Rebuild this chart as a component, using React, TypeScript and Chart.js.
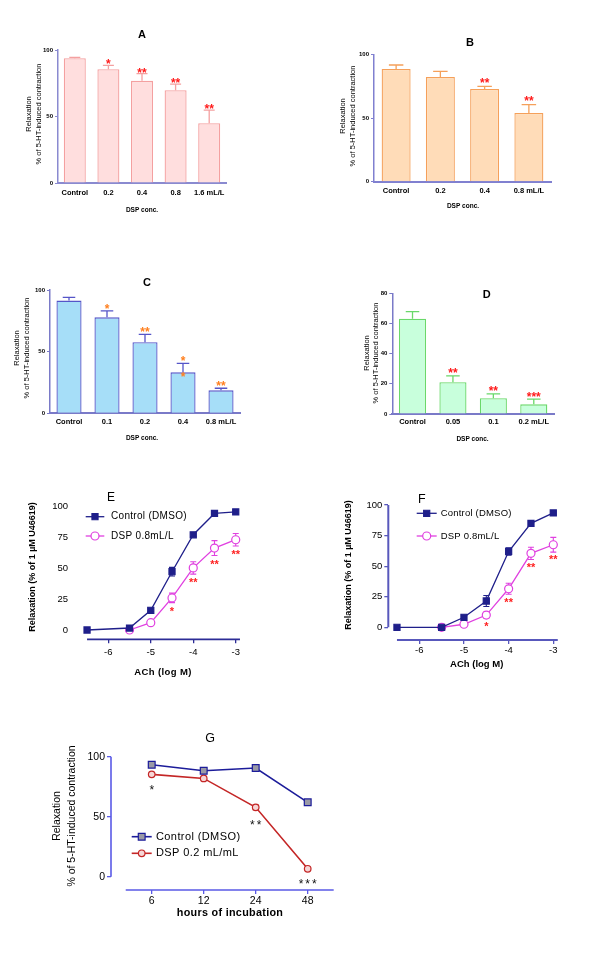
import React, { useEffect, useRef } from 'react';
import { Chart, registerables } from 'chart.js';

Chart.register(...registerables);

const FONT = '"Liberation Sans", Arial, Helvetica, sans-serif';

// ---------------- DATA ----------------
// Panel A
const aLabels = ['Control', '0.2', '0.4', '0.8', '1.6 mL/L'];
const aMeans = [93.8, 85.5, 76.8, 69.8, 45];
const aErrs = [0.7, 3, 5.5, 4.5, 9.8];
const aStars = ['', '*', '**', '**', '**'];

// Panel B
const bLabels = ['Control', '0.2', '0.4', '0.8 mL/L'];
const bMeans = [88.5, 82.2, 72.8, 53.9];
const bErrs = [3.1, 4.4, 2.1, 6.6];
const bStars = ['', '', '**', '**'];

// Panel C
const cLabels = ['Control', '0.1', '0.2', '0.4', '0.8 mL/L'];
const cMeans = [91.4, 77.8, 57.6, 33.2, 18.6];
const cErrs = [2.6, 5.2, 6.4, 7.3, 1.7];
const cStars = ['', '*', '**', '*', '**'];
const cStarsOnBar = ['', '', '', '*', ''];

// Panel D
const dLabels = ['Control', '0.05', '0.1', '0.2 mL/L'];
const dMeans = [63.1, 21.1, 10.4, 6.4];
const dErrs = [4.7, 4.2, 2.9, 3.4];
const dStars = ['', '**', '**', '***'];

const yTicks100 = [0, 50, 100];
const yTicks80 = [0, 20, 40, 60, 80];

// Panel E
const eCtrlX = [-6.5, -5.5, -5, -4.5, -4, -3.5, -3];
const eCtrlY = [0, 1.6, 15.9, 47, 76.8, 94, 95.2];
const eCtrlErr = [0, 0.5, 1, 3.5, 1.5, 1, 0.8];
const eDspX = [-5.5, -5, -4.5, -4, -3.5, -3];
const eDspY = [0, 5.9, 25.9, 50.1, 66.1, 72.8];
const eDspErr = [0, 0.8, 3.8, 5, 6, 5];
const eStars = ['', '', '*', '**', '**', '**'];

// Panel F
const fCtrlX = [-6.5, -5.5, -5, -4.5, -4, -3.5, -3];
const fCtrlY = [0, 0, 8.2, 21.5, 62, 85, 93.5];
const fCtrlErr = [0, 0.5, 1, 4.5, 3, 1.5, 1];
const fDspX = [-5.5, -5, -4.5, -4, -3.5, -3];
const fDspY = [0, 2.5, 10, 31.5, 60.5, 67.5];
const fDspErr = [0, 0.5, 2.5, 4.5, 5, 6];
const fStars = ['', '', '*', '**', '**', '**'];

const logTicks = [-6, -5, -4, -3];
const yTicks25 = [0, 25, 50, 75, 100];

// Panel G
const gHours = ['6', '12', '24', '48'];
const gIdx = [0, 1, 2, 3];
const gCtrlY = [93.3, 88.3, 90.6, 62];
const gCtrlErr = [0.8, 0.8, 0.8, 1.2];
const gDspY = [85.3, 81.9, 57.8, 6.6];
const gDspErr = [0.5, 0.5, 2, 0.5];
const gStars = ['*', '', '**', '***'];

// ---------------- HELPERS ----------------
type Rect = { x: number; y: number; w: number; h: number };
type Area = { l: number; t: number; r: number; b: number };

function fit(rect: Rect, area: Area) {
  return {
    padding: { top: area.t - rect.y, right: rect.x + rect.w - area.r, left: 0, bottom: 0 },
    yW: area.l - rect.x,
    xH: rect.y + rect.h - area.b,
  };
}

type TOpt = { size: number; bold?: boolean; color?: string; align?: CanvasTextAlign; rot?: number; spacing?: number };

function drawText(ctx: CanvasRenderingContext2D, s: string, x: number, y: number, o: TOpt) {
  ctx.save();
  ctx.font = `${o.bold ? 'bold ' : ''}${o.size}px ${FONT}`;
  ctx.fillStyle = o.color ?? '#000';
  ctx.textAlign = o.align ?? 'center';
  ctx.textBaseline = 'middle';
  if (o.spacing) (ctx as any).letterSpacing = `${o.spacing}px`;
  ctx.translate(x, y);
  if (o.rot) ctx.rotate(o.rot);
  ctx.fillText(s, 0, 0);
  ctx.restore();
}

function drawStars(ctx: CanvasRenderingContext2D, s: string, x: number, yc: number, size: number, color: string, bold = true, spacing = 0) {
  ctx.save();
  ctx.font = `${bold ? 'bold ' : ''}${size}px ${FONT}`;
  ctx.fillStyle = color;
  ctx.textAlign = 'center';
  ctx.textBaseline = 'alphabetic';
  if (spacing) (ctx as any).letterSpacing = `${spacing}px`;
  ctx.fillText(s, x + spacing / 2, yc + 0.58 * size);
  ctx.restore();
}

// ---------------- BAR PANELS ----------------
type BarPanel = {
  rect: Rect; area: Area;
  labels: string[]; means: number[]; errs: number[]; stars: string[]; starsOnBar?: string[];
  starColor: string; starGap: number;
  fill: string; line: string; axis: string;
  yMax: number; yTicks: number[]; barPct: number; xPad: number;
  title: string; titleAt: [number, number];
  yTitleX: [number, number]; yTitleY: number; concAt: [number, number];
};

function barConfig(P: BarPanel): any {
  const f = fit(P.rect, P.area);
  const overlay = {
    id: 'barOverlay',
    afterDatasetsDraw(chart: any) {
      const ctx: CanvasRenderingContext2D = chart.ctx;
      const y = chart.scales.y;
      const meta = chart.getDatasetMeta(0);
      ctx.save();
      ctx.strokeStyle = P.line;
      ctx.lineWidth = 1.3;
      P.means.forEach((m, i) => {
        const el = meta.data[i];
        const cx = el.x;
        const w = el.width;
        const yM = y.getPixelForValue(m);
        const yT = y.getPixelForValue(m + P.errs[i]);
        ctx.beginPath();
        ctx.moveTo(cx, yM);
        ctx.lineTo(cx, yT);
        ctx.moveTo(cx - w * 0.25, yT);
        ctx.lineTo(cx + w * 0.25, yT);
        ctx.stroke();
        if (P.stars[i]) drawStars(ctx, P.stars[i], cx, yT - P.starGap, 12, P.starColor);
        if (P.starsOnBar && P.starsOnBar[i]) drawStars(ctx, P.starsOnBar[i], cx, yM + 2, 12, P.starColor);
      });
      ctx.restore();
      ctx.save();
      ctx.translate(-P.rect.x, -P.rect.y);
      drawText(ctx, P.title, P.titleAt[0], P.titleAt[1], { size: 11, bold: true });
      drawText(ctx, 'Relaxation', P.yTitleX[0], P.yTitleY, { size: 7.5, rot: -Math.PI / 2 });
      drawText(ctx, '% of 5-HT-induced contraction', P.yTitleX[1], P.yTitleY, { size: 7.5, rot: -Math.PI / 2 });
      drawText(ctx, 'DSP conc.', P.concAt[0], P.concAt[1], { size: 6.5, bold: true });
      ctx.restore();
    },
  };
  return {
    type: 'bar',
    data: {
      labels: P.labels,
      datasets: [{
        data: P.means,
        backgroundColor: P.fill,
        borderColor: P.line,
        borderWidth: 1.3,
        barPercentage: P.barPct,
        categoryPercentage: 1,
        borderSkipped: 'start',
      }],
    },
    options: {
      animation: false,
      responsive: false,
      devicePixelRatio: 1,
      events: [],
      layout: { padding: f.padding },
      plugins: { legend: { display: false }, tooltip: { enabled: false }, title: { display: false } },
      scales: {
        x: {
          type: 'category',
          offset: true,
          grid: { display: false, drawTicks: false },
          border: { display: true, color: P.axis, width: 2 },
          ticks: { color: '#000', font: { family: FONT, size: 7.5, weight: 'bold' }, padding: P.xPad, autoSkip: false, maxRotation: 0, minRotation: 0 },
          afterFit: (s: any) => { s.height = f.xH; },
        },
        y: {
          type: 'linear',
          min: 0,
          max: P.yMax,
          afterBuildTicks: (s: any) => { s.ticks = P.yTicks.map((v) => ({ value: v })); },
          grid: { display: true, drawOnChartArea: false, drawTicks: true, tickLength: 3, color: P.axis, lineWidth: 1 },
          border: { display: true, color: P.axis, width: 1.5 },
          ticks: { color: '#000', font: { family: FONT, size: 6, weight: 'bold' }, padding: 2 },
          afterFit: (s: any) => { s.width = f.yW; },
        },
      },
    },
    plugins: [overlay],
  };
}

const panelA: BarPanel = {
  rect: { x: 0, y: 0, w: 300, h: 215 }, area: { l: 58, t: 50, r: 226, b: 183 },
  labels: aLabels, means: aMeans, errs: aErrs, stars: aStars,
  starColor: '#ff1a1a', starGap: 4, fill: '#ffdede', line: '#f4a0a0', axis: '#8a8ad0',
  yMax: 100, yTicks: yTicks100, barPct: 0.655, xPad: 5.2,
  title: 'A', titleAt: [142, 35], yTitleX: [29, 39], yTitleY: 114, concAt: [142, 210],
};
const panelB: BarPanel = {
  rect: { x: 300, y: 0, w: 300, h: 215 }, area: { l: 374, t: 54.3, r: 551, b: 181.7 },
  labels: bLabels, means: bMeans, errs: bErrs, stars: bStars,
  starColor: '#ff1a1a', starGap: 6.5, fill: '#ffdcb8', line: '#f5a05a', axis: '#8080d0',
  yMax: 100, yTicks: yTicks100, barPct: 0.655, xPad: 4.5,
  title: 'B', titleAt: [470, 43], yTitleX: [343, 353], yTitleY: 116, concAt: [463, 206],
};
const panelC: BarPanel = {
  rect: { x: 0, y: 215, w: 300, h: 230 }, area: { l: 50, t: 290, r: 240, b: 413.3 },
  labels: cLabels, means: cMeans, errs: cErrs, stars: cStars, starsOnBar: cStarsOnBar,
  starColor: '#ff8020', starGap: 5, fill: '#a6def8', line: '#5555c8', axis: '#7a7ac8',
  yMax: 100, yTicks: yTicks100, barPct: 0.66, xPad: 4.6,
  title: 'C', titleAt: [147, 283], yTitleX: [17, 27], yTitleY: 348, concAt: [142, 438.7],
};
const panelD: BarPanel = {
  rect: { x: 300, y: 215, w: 300, h: 230 }, area: { l: 392.3, t: 293.3, r: 554, b: 414 },
  labels: dLabels, means: dMeans, errs: dErrs, stars: dStars,
  starColor: '#ff1a1a', starGap: 5.5, fill: '#c8ffdc', line: '#6ad86a', axis: '#7a7ac8',
  yMax: 80, yTicks: yTicks80, barPct: 0.67, xPad: 3.9,
  title: 'D', titleAt: [486.7, 295], yTitleX: [366.7, 376], yTitleY: 353, concAt: [472.5, 439],
};

// ---------------- LINE PANELS ----------------
type Series = {
  label: string; x: number[]; y: number[]; err: number[];
  color: string; fill: string; marker: 'rect' | 'circle'; r: number; lw: number;
};
type LinePanel = {
  rect: Rect; area: Area;
  xMin: number; xMax: number; yMin: number; yMax: number;
  xTicks: number[]; yTicks: number[]; xFmt?: (v: number) => string;
  xLine: [number, number]; yLine?: [number, number];
  axis: string; axisW: number; yTickMarks: boolean; yPad: number; xPad: number;
  tickFont: number; series: Series[]; cap: number;
  stars: string[]; starSeries: number; starGap: number; starColor: string; starSize: number; starBold: boolean; starSpacing: number;
  title: string; titleAt: [number, number]; titleSize: number;
  yTitle: string[]; yTitleX: number[]; yTitleY: number; yTitleSize: number; yTitleBold: boolean;
  xTitle: string; xTitleAt: [number, number]; xTitleSize: number; xTitleSpacing: number;
  legend: { x1: number; x2: number; mx: number; tx: number; ys: number[]; size: number; spacing: number };
};

function drawMarker(ctx: CanvasRenderingContext2D, s: Series, x: number, y: number) {
  ctx.save();
  ctx.fillStyle = s.fill;
  ctx.strokeStyle = s.color;
  ctx.lineWidth = 1.2;
  ctx.beginPath();
  if (s.marker === 'rect') {
    const h = s.r * Math.SQRT1_2;
    ctx.rect(x - h, y - h, 2 * h, 2 * h);
  } else {
    ctx.arc(x, y, s.r, 0, Math.PI * 2);
  }
  ctx.fill();
  ctx.stroke();
  ctx.restore();
}

function lineConfig(P: LinePanel): any {
  const f = fit(P.rect, P.area);
  const overlay = {
    id: 'lineOverlay',
    beforeDatasetsDraw(chart: any) {
      const ctx: CanvasRenderingContext2D = chart.ctx;
      const xs = chart.scales.x;
      const ys = chart.scales.y;
      const { left, bottom } = chart.chartArea;
      ctx.save();
      ctx.strokeStyle = P.axis;
      ctx.lineWidth = P.axisW;
      ctx.beginPath();
      ctx.moveTo(xs.getPixelForValue(P.xLine[0]), bottom);
      ctx.lineTo(xs.getPixelForValue(P.xLine[1]), bottom);
      if (P.yLine) {
        ctx.moveTo(left, ys.getPixelForValue(P.yLine[1]));
        ctx.lineTo(left, ys.getPixelForValue(P.yLine[0]));
      }
      ctx.stroke();
      P.series.forEach((s) => {
        ctx.strokeStyle = s.color;
        ctx.lineWidth = 1.1;
        s.x.forEach((xv, i) => {
          const e = s.err[i];
          if (!e) return;
          const px = xs.getPixelForValue(xv);
          const y1 = ys.getPixelForValue(s.y[i] + e);
          const y2 = ys.getPixelForValue(s.y[i] - e);
          ctx.beginPath();
          ctx.moveTo(px, y1); ctx.lineTo(px, y2);
          ctx.moveTo(px - P.cap, y1); ctx.lineTo(px + P.cap, y1);
          ctx.moveTo(px - P.cap, y2); ctx.lineTo(px + P.cap, y2);
          ctx.stroke();
        });
      });
      ctx.restore();
    },
    afterDatasetsDraw(chart: any) {
      const ctx: CanvasRenderingContext2D = chart.ctx;
      const xs = chart.scales.x;
      const ys = chart.scales.y;
      const ss = P.series[P.starSeries];
      P.stars.forEach((st, i) => {
        if (!st) return;
        const px = xs.getPixelForValue(ss.x[i]);
        const py = ys.getPixelForValue(ss.y[i] - ss.err[i]);
        drawStars(ctx, st, px, py + P.starGap, P.starSize, P.starColor, P.starBold, P.starSpacing);
      });
      ctx.save();
      ctx.translate(-P.rect.x, -P.rect.y);
      drawText(ctx, P.title, P.titleAt[0], P.titleAt[1], { size: P.titleSize });
      P.yTitle.forEach((t, k) => drawText(ctx, t, P.yTitleX[k], P.yTitleY, { size: P.yTitleSize, bold: P.yTitleBold, rot: -Math.PI / 2 }));
      drawText(ctx, P.xTitle, P.xTitleAt[0], P.xTitleAt[1], { size: P.xTitleSize, bold: true, spacing: P.xTitleSpacing });
      const L = P.legend;
      P.series.forEach((s, k) => {
        const ly = L.ys[k];
        ctx.save();
        ctx.strokeStyle = s.color;
        ctx.lineWidth = s.lw;
        ctx.beginPath();
        ctx.moveTo(L.x1, ly);
        ctx.lineTo(L.x2, ly);
        ctx.stroke();
        ctx.restore();
        drawMarker(ctx, s, L.mx, ly);
        drawText(ctx, s.label, L.tx, ly, { size: L.size, align: 'left', spacing: L.spacing });
      });
      ctx.restore();
    },
  };
  return {
    type: 'line',
    data: {
      datasets: P.series.map((s) => ({
        label: s.label,
        data: s.x.map((x, i) => ({ x, y: s.y[i] })),
        borderColor: s.color,
        backgroundColor: s.fill,
        borderWidth: s.lw,
        pointStyle: s.marker,
        pointRadius: s.r,
        pointBackgroundColor: s.fill,
        pointBorderColor: s.color,
        pointBorderWidth: 1.2,
        tension: 0,
        fill: false,
        clip: false,
      })),
    },
    options: {
      animation: false,
      responsive: false,
      devicePixelRatio: 1,
      events: [],
      layout: { padding: f.padding },
      plugins: { legend: { display: false }, tooltip: { enabled: false }, title: { display: false } },
      scales: {
        x: {
          type: 'linear',
          min: P.xMin,
          max: P.xMax,
          afterBuildTicks: (s: any) => { s.ticks = P.xTicks.map((v) => ({ value: v })); },
          grid: { display: true, drawOnChartArea: false, drawTicks: true, tickLength: 4, color: P.axis, lineWidth: 1.3 },
          border: { display: false },
          ticks: {
            color: '#000',
            font: { family: FONT, size: P.tickFont },
            padding: P.xPad,
            maxRotation: 0,
            autoSkip: false,
            callback: (v: number) => (P.xFmt ? P.xFmt(v) : String(v)),
          },
          afterFit: (s: any) => { s.height = f.xH; },
        },
        y: {
          type: 'linear',
          min: P.yMin,
          max: P.yMax,
          afterBuildTicks: (s: any) => { s.ticks = P.yTicks.map((v) => ({ value: v })); },
          grid: { display: P.yTickMarks, drawOnChartArea: false, drawTicks: P.yTickMarks, tickLength: 4, color: P.axis, lineWidth: 1.3 },
          border: { display: false },
          ticks: { color: '#000', font: { family: FONT, size: P.tickFont }, padding: P.yPad },
          afterFit: (s: any) => { s.width = f.yW; },
        },
      },
    },
    plugins: [overlay],
  };
}

const NAVY = '#1f1f8a';
const MAGENTA = '#e040e0';

const panelE: LinePanel = {
  rect: { x: 0, y: 445, w: 300, h: 240 }, area: { l: 82.8, t: 506, r: 242.1, b: 639.3 },
  xMin: -6.6, xMax: -2.85, yMin: -7.5, yMax: 100,
  xTicks: logTicks, yTicks: yTicks25, xLine: [-6.5, -2.9],
  axis: '#2c2c96', axisW: 1.8, yTickMarks: false, yPad: 14.8, xPad: 3.5, tickFont: 9.5,
  series: [
    { label: 'Control (DMSO)', x: eCtrlX, y: eCtrlY, err: eCtrlErr, color: NAVY, fill: NAVY, marker: 'rect', r: 4.3, lw: 1.3 },
    { label: 'DSP 0.8mL/L', x: eDspX, y: eDspY, err: eDspErr, color: MAGENTA, fill: '#ffffff', marker: 'circle', r: 4, lw: 1.3 },
  ],
  cap: 3,
  stars: eStars, starSeries: 1, starGap: 6, starColor: '#ff2020', starSize: 11, starBold: true, starSpacing: 0,
  title: 'E', titleAt: [111, 498], titleSize: 12,
  yTitle: ['Relaxation (% of 1 \u00b5M U46619)'], yTitleX: [33], yTitleY: 567, yTitleSize: 9, yTitleBold: true,
  xTitle: 'ACh (log M)', xTitleAt: [163, 672], xTitleSize: 9.5, xTitleSpacing: 0.4,
  legend: { x1: 85.7, x2: 104.3, mx: 95, tx: 111, ys: [516.7, 536], size: 10, spacing: 0.3 },
};

const panelF: LinePanel = {
  rect: { x: 300, y: 445, w: 300, h: 240 }, area: { l: 388.3, t: 505, r: 560, b: 640 },
  xMin: -6.694, xMax: -2.85, yMin: -10.38, yMax: 100,
  xTicks: logTicks, yTicks: yTicks25, xLine: [-6.5, -2.9], yLine: [0, 100],
  axis: '#5858bc', axisW: 2, yTickMarks: true, yPad: 2, xPad: 1, tickFont: 9.5,
  series: [
    { label: 'Control (DMSO)', x: fCtrlX, y: fCtrlY, err: fCtrlErr, color: NAVY, fill: NAVY, marker: 'rect', r: 4.3, lw: 1.3 },
    { label: 'DSP 0.8mL/L', x: fDspX, y: fDspY, err: fDspErr, color: MAGENTA, fill: '#ffffff', marker: 'circle', r: 4, lw: 1.3 },
  ],
  cap: 3,
  stars: fStars, starSeries: 1, starGap: 5, starColor: '#ff2020', starSize: 11, starBold: true, starSpacing: 0,
  title: 'F', titleAt: [421.7, 500], titleSize: 12.5,
  yTitle: ['Relaxation (% of 1 \u00b5M U46619)'], yTitleX: [348.3], yTitleY: 565, yTitleSize: 9, yTitleBold: true,
  xTitle: 'ACh (log M)', xTitleAt: [476.7, 664.3], xTitleSize: 9.5, xTitleSpacing: 0,
  legend: { x1: 416.7, x2: 436.7, mx: 426.7, tx: 440.7, ys: [513.3, 536], size: 9.5, spacing: 0.2 },
};

const panelG: LinePanel = {
  rect: { x: 0, y: 690, w: 600, h: 269 }, area: { l: 111, t: 756.7, r: 338.9, b: 890 },
  xMin: -0.783, xMax: 3.6, yMin: -11.08, yMax: 100,
  xTicks: gIdx, yTicks: yTicks100, xFmt: (v: number) => gHours[v] ?? '', xLine: [-0.5, 3.5], yLine: [0, 100],
  axis: '#5a5ae6', axisW: 1.6, yTickMarks: true, yPad: 2, xPad: 1, tickFont: 10.5,
  series: [
    { label: 'Control (DMSO)', x: gIdx, y: gCtrlY, err: gCtrlErr, color: '#1c1c9a', fill: '#9a9aa6', marker: 'rect', r: 4.8, lw: 1.6 },
    { label: 'DSP 0.2 mL/mL', x: gIdx, y: gDspY, err: gDspErr, color: '#c42626', fill: '#f6d6d6', marker: 'circle', r: 3.3, lw: 1.6 },
  ],
  cap: 3,
  stars: gStars, starSeries: 1, starGap: 12, starColor: '#111111', starSize: 12, starBold: false, starSpacing: 2,
  title: 'G', titleAt: [210, 738.3], titleSize: 12.5,
  yTitle: ['Relaxation', '% of 5-HT-induced contraction'], yTitleX: [57, 72], yTitleY: 816, yTitleSize: 10.5, yTitleBold: false,
  xTitle: 'hours of incubation', xTitleAt: [230, 912.7], xTitleSize: 10.8, xTitleSpacing: 0.3,
  legend: { x1: 131.7, x2: 151.7, mx: 141.7, tx: 156, ys: [836.7, 853.3], size: 11, spacing: 0.4 },
};

// ---------------- COMPONENTS ----------------
function ChartBox({ rect, make }: { rect: Rect; make: () => any }) {
  const ref = useRef<HTMLCanvasElement>(null);
  useEffect(() => {
    const chart = new Chart(ref.current as HTMLCanvasElement, make());
    return () => chart.destroy();
  }, []);
  return (
    <canvas
      ref={ref}
      width={rect.w}
      height={rect.h}
      style={{ position: 'absolute', left: rect.x, top: rect.y, width: rect.w, height: rect.h }}
    />
  );
}

export default function App() {
  return (
    <div style={{ position: 'absolute', left: 0, top: 0, width: 600, height: 959, background: '#ffffff', overflow: 'hidden' }}>
      <ChartBox rect={panelA.rect} make={() => barConfig(panelA)} />
      <ChartBox rect={panelB.rect} make={() => barConfig(panelB)} />
      <ChartBox rect={panelC.rect} make={() => barConfig(panelC)} />
      <ChartBox rect={panelD.rect} make={() => barConfig(panelD)} />
      <ChartBox rect={panelE.rect} make={() => lineConfig(panelE)} />
      <ChartBox rect={panelF.rect} make={() => lineConfig(panelF)} />
      <ChartBox rect={panelG.rect} make={() => lineConfig(panelG)} />
    </div>
  );
}
